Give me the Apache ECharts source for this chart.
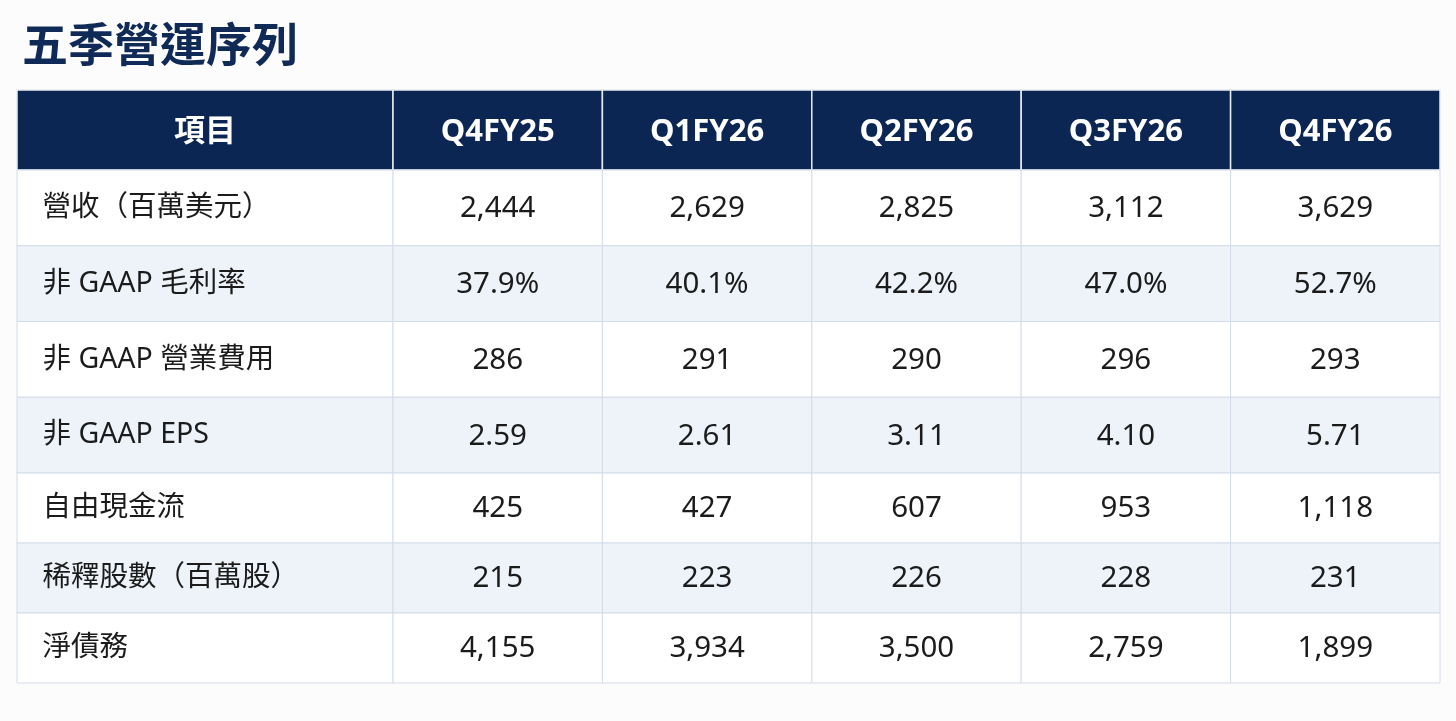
<!DOCTYPE html>
<html>
<head>
<meta charset="utf-8">
<script src="https://cdn.jsdelivr.net/npm/echarts@6/dist/echarts.min.js"></script>
<style>
  html, body { margin: 0; padding: 0; background: #fcfcfd; }
  #main { width: 1456px; height: 721px; }
</style>
</head>
<body>
<div id="main"></div>
<script>
// table data
const headerLabel = '項目'
const quarters = ['Q4FY25', 'Q1FY26', 'Q2FY26', 'Q3FY26', 'Q4FY26']
const rowLabels = ['營收（百萬美元）', '非 GAAP 毛利率', '非 GAAP 營業費用', '非 GAAP EPS', '自由現金流', '稀釋股數（百萬股）', '淨債務']
const revenue = [2444, 2629, 2825, 3112, 3629]
const grossMargin = [37.9, 40.1, 42.2, 47.0, 52.7]
const opex = [286, 291, 290, 296, 293]
const eps = [2.59, 2.61, 3.11, 4.10, 5.71]
const freeCashFlow = [425, 427, 607, 953, 1118]
const dilutedShares = [215, 223, 226, 228, 231]
const netDebt = [4155, 3934, 3500, 2759, 1899]

const fmtInt = (v) => v.toLocaleString('en-US')
const rows = [
    revenue.map(fmtInt),
    grossMargin.map(v => v.toFixed(1) + '%'),
    opex.map(fmtInt),
    eps.map(v => v.toFixed(2)),
    freeCashFlow.map(fmtInt),
    dilutedShares.map(fmtInt),
    netDebt.map(fmtInt)
]

const NAVY = '#0c2654'
const LINE = '#d3dce8'
const STRIPE = '#eef3fa'
const FONT = '"Noto Sans", "Noto Sans CJK TC", sans-serif'

// the body is split in two blocks (rows 0-3 are a bit taller than rows 4-6)
const topRows = rowLabels.slice(0, 4)
const bottomRows = rowLabels.slice(4)

// cells: [col, rowInBlock, text, globalRow]
const makeLabelCells = (labels, offset) => labels.map((t, i) => [0, i, t, i + offset])
const makeValueCells = (from, to) => {
    const out = []
    for (let i = from; i < to; i++) {
        rows[i].forEach((t, j) => out.push([j, i - from, t, i]))
    }
    return out
}

const cellRender = (mode, cells) => (params, api) => {
    const c = api.coord([api.value(0), api.value(1)])
    const s = api.size([1, 1])
    const cell = cells[params.dataIndex]
    const isHeader = mode === 'head'
    const row = cell[3]
    return {
        type: 'rect',
        shape: { x: c[0] - s[0] / 2, y: c[1] - s[1] / 2, width: s[0], height: s[1] },
        style: {
            fill: isHeader ? NAVY : (row % 2 === 1 ? STRIPE : '#ffffff'),
            stroke: isHeader ? '#e6ebf2' : LINE,
            lineWidth: isHeader ? 1.5 : 1
        },
        textContent: {
            style: {
                text: cell[2],
                fill: isHeader ? '#ffffff' : '#1b1b1b',
                font: (isHeader ? 'bold 31px ' : (mode === 'label' ? '28.5px ' : '29.5px ')) + FONT
            }
        },
        textConfig: mode === 'label'
            ? { position: 'insideLeft', distance: 26 }
            : { position: 'inside', offset: [0, isHeader ? 2 : 1] }
    }
}

const catAxis = (gridIndex, data, extra) => Object.assign({
    type: 'category', gridIndex, data,
    axisLine: { show: false }, axisTick: { show: false }, axisLabel: { show: false }, splitLine: { show: false }
}, extra || {})

const headLabelCells = [[0, 0, headerLabel, -1]]
const headCells = quarters.map((q, i) => [i, 0, q, -1])
const topLabelCells = makeLabelCells(topRows, 0)
const topValueCells = makeValueCells(0, 4)
const bottomLabelCells = makeLabelCells(bottomRows, 4)
const bottomValueCells = makeValueCells(4, 7)

const customSeries = (idx, mode, cells) => ({
    type: 'custom', xAxisIndex: idx, yAxisIndex: idx,
    data: cells, renderItem: cellRender(mode, cells), encode: { x: 0, y: 1 }
})

const option = {
    backgroundColor: '#fcfcfd',
    animation: false,
    title: {
        text: '五季營運序列',
        left: 17, top: 16,
        textStyle: { color: '#0f2a57', fontSize: 46, fontWeight: 'bold', fontFamily: '"Noto Sans CJK TC", sans-serif' }
    },
    grid: [
        { left: 17, top: 90, width: 376, height: 80 },
        { left: 393, top: 90, width: 1047, height: 80 },
        { left: 17, top: 170, width: 376, height: 303 },
        { left: 393, top: 170, width: 1047, height: 303 },
        { left: 17, top: 473, width: 376, height: 210 },
        { left: 393, top: 473, width: 1047, height: 210 }
    ],
    xAxis: [
        catAxis(0, [headerLabel]),
        catAxis(1, quarters),
        catAxis(2, [headerLabel]),
        catAxis(3, quarters),
        catAxis(4, [headerLabel]),
        catAxis(5, quarters)
    ],
    yAxis: [
        catAxis(0, ['head']),
        catAxis(1, ['head']),
        catAxis(2, topRows, { inverse: true }),
        catAxis(3, topRows, { inverse: true }),
        catAxis(4, bottomRows, { inverse: true }),
        catAxis(5, bottomRows, { inverse: true })
    ],
    series: [
        customSeries(0, 'head', headLabelCells),
        customSeries(1, 'head', headCells),
        customSeries(2, 'label', topLabelCells),
        customSeries(3, 'value', topValueCells),
        customSeries(4, 'label', bottomLabelCells),
        customSeries(5, 'value', bottomValueCells)
    ]
}

const myChart = echarts.init(document.getElementById('main'))
myChart.setOption(option)
window.addEventListener('resize', () => {
    myChart.resize()
})
</script>
</body>
</html>
